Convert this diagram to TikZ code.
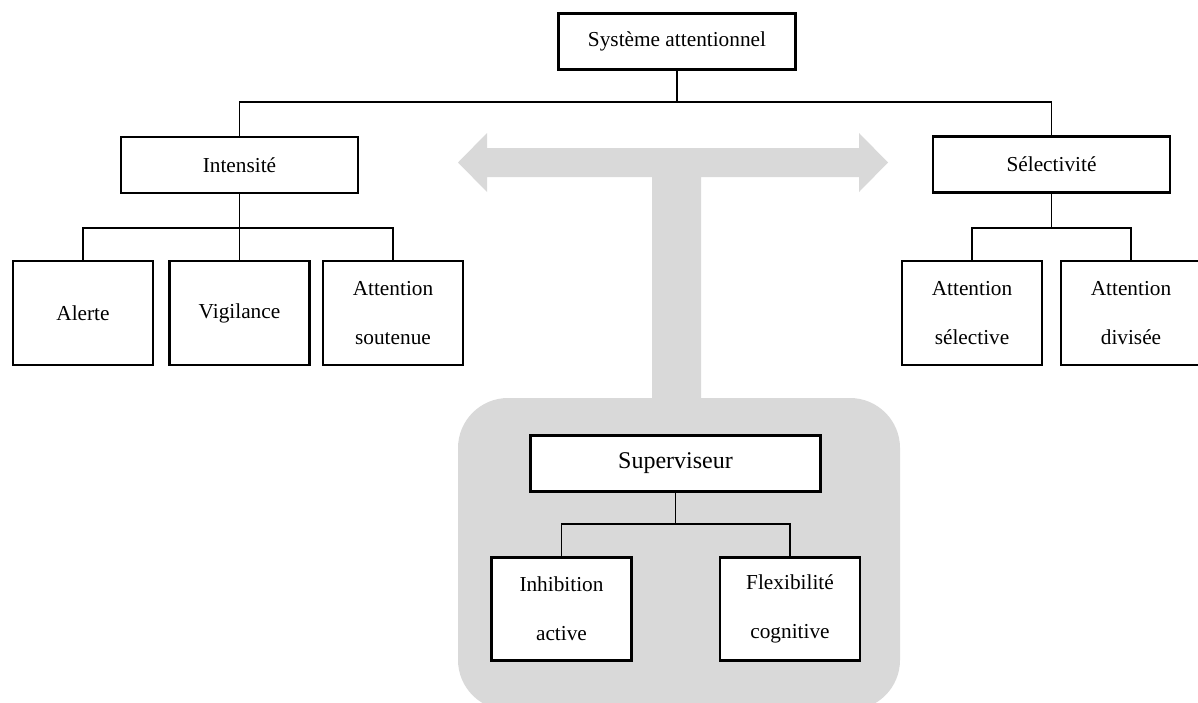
\documentclass[tikz,border=0pt]{standalone}
\usepackage{fontspec}
\setmainfont{Liberation Serif}
\definecolor{lightgreyfill}{HTML}{D9D9D9}
\begin{document}
\begin{tikzpicture}[x=1pt,y=-1pt,
  box/.style={draw=black, line width=2.6pt, fill=white, inner sep=0pt, align=center,
    font=\fontsize{21.3}{49}\selectfont},
  bigbox/.style={box, minimum width=237pt, minimum height=56pt},
  smallbox/.style={box, minimum width=140pt, minimum height=104pt},
  link/.style={draw=black, line width=1.1pt},
  greyshape/.style={fill=lightgreyfill, draw=none}]
\useasboundingbox (0,0) rectangle (1198,702);
% grey background shapes
\path[greyshape] (458,162.5) -- (487,133) -- (487,148) -- (859,148) -- (859,133)
  -- (888,162.5) -- (859,192) -- (859,177) -- (701,177) -- (701,420)
  -- (652,420) -- (652,177) -- (487,177) -- (487,192) -- cycle;
\path[greyshape, rounded corners=50pt] (458,398) rectangle (900,710);
% nodes
\node[bigbox] (sys) at (677,41.5) {Système attentionnel};
\node[bigbox] (int) at (239.5,165) {Intensité};
\node[bigbox] (sel) at (1051.5,164.5) {Sélectivité};
\node[smallbox] (ale) at (83,313) {Alerte};
\node[smallbox] (vig) at (239.5,313) {Vigilance};
\node[smallbox] (att) at (393,313) {Attention\\soutenue};
\node[smallbox] (asel) at (972,313) {Attention\\sélective};
\node[smallbox] (adiv) at (1131,313) {Attention\\divisée};
\node[box, minimum width=290pt, minimum height=56pt, font=\fontsize{24}{49}\selectfont] (sup) at (675.5,463.5) {Superviseur};
\node[smallbox, minimum height=103pt] (inh) at (561.5,609) {Inhibition\\active};
\node[smallbox, minimum height=103pt] (flx) at (790,609) {Flexibilité\\cognitive};
% bus levels
\coordinate (b1) at (0,102);
\coordinate (b2) at (0,228);
\coordinate (b3) at (0,524);
% connectors
\draw[link] (sys.south) -- (sys.south |- b1) -| (int.north);
\draw[link] (sys.south |- b1) -| (sel.north);
\draw[link] (int.south) -- (vig.north);
\draw[link] (int.south |- b2) -| (ale.north);
\draw[link] (int.south |- b2) -| (att.north);
\draw[link] (sel.south) -- (sel.south |- b2) -| (asel.north);
\draw[link] (sel.south |- b2) -| (adiv.north);
\draw[link] (sup.south) -- (sup.south |- b3) -| (inh.north);
\draw[link] (sup.south |- b3) -| (flx.north);
\end{tikzpicture}
\end{document}
